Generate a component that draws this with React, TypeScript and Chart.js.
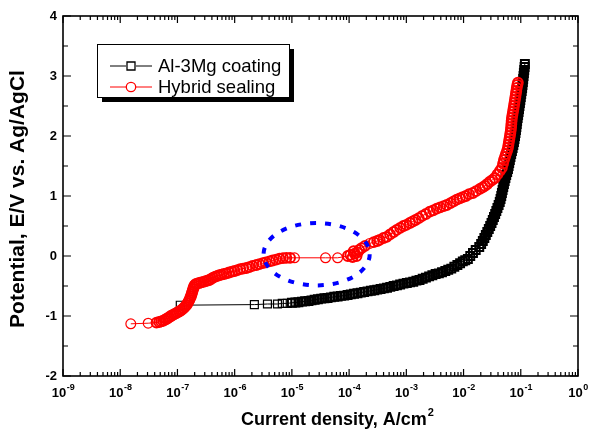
import React, { useEffect, useRef } from "react";
import { Chart, registerables } from "chart.js";

Chart.register(...registerables);

// ---------------- data ----------------
const seriesLabels = ["Al-3Mg coating", "Hybrid sealing"];

const alMgCurrent = [
  1.12e-7, 2.21e-6, 3.74e-6, 5.6e-6, 6.8e-6, 8.3e-6, 1.0e-5, 1.15e-5, 1.3e-5, 1.5e-5,
  1.7e-5, 1.95e-5, 2.2e-5, 2.5e-5, 2.85e-5, 3.25e-5, 3.7e-5, 4.2e-5, 4.8e-5, 5.5e-5,
  6.3e-5, 7.2e-5, 8.2e-5, 9.4e-5, 1.07e-4, 1.22e-4, 1.4e-4, 1.6e-4, 1.83e-4, 2.1e-4,
  2.4e-4, 2.75e-4, 3.1e-4, 3.55e-4, 4.05e-4, 4.6e-4, 5.25e-4, 6.0e-4, 6.85e-4, 7.8e-4,
  8.9e-4, 1.02e-3, 1.16e-3, 1.32e-3, 1.5e-3, 1.7e-3, 1.93e-3, 2.2e-3, 2.5e-3, 2.85e-3,
  3.25e-3, 3.7e-3, 4.2e-3, 4.8e-3, 5.4e-3, 6.1e-3, 6.9e-3, 7.8e-3, 8.7e-3, 9.7e-3,
  1.07e-2,
  1.19e-2, 1.31e-2, 1.46e-2, 1.63e-2, 1.88e-2, 2.03e-2, 2.17e-2, 2.31e-2, 2.45e-2, 2.6e-2,
  2.76e-2, 2.92e-2, 3.08e-2, 3.24e-2, 3.4e-2, 3.57e-2, 3.74e-2, 3.91e-2, 4.1e-2, 4.29e-2,
  4.43e-2, 4.56e-2, 4.68e-2, 4.81e-2, 4.94e-2, 5.08e-2, 5.23e-2, 5.39e-2, 5.57e-2, 5.79e-2,
  5.98e-2, 6.13e-2, 6.28e-2, 6.44e-2, 6.61e-2, 6.8e-2, 7.01e-2, 7.21e-2, 7.41e-2, 7.6e-2,
  7.77e-2, 7.94e-2, 8.09e-2, 8.24e-2, 8.38e-2, 8.51e-2, 8.64e-2, 8.82e-2, 8.99e-2, 9.16e-2,
  9.32e-2, 9.49e-2, 9.66e-2, 9.83e-2, 0.1, 0.1018, 0.1038, 0.1056, 0.107, 0.1087,
  0.1102, 0.1118, 0.1133, 0.115, 0.1166, 0.118,
];
const alMgPotential = [
  -0.82, -0.81, -0.8, -0.8, -0.79, -0.79, -0.78, -0.775, -0.77, -0.76,
  -0.755, -0.75, -0.74, -0.73, -0.72, -0.71, -0.705, -0.7, -0.69, -0.68,
  -0.675, -0.665, -0.66, -0.65, -0.64, -0.63, -0.62, -0.61, -0.6, -0.59,
  -0.58, -0.57, -0.56, -0.55, -0.54, -0.53, -0.515, -0.5, -0.49, -0.475,
  -0.46, -0.45, -0.44, -0.43, -0.41, -0.4, -0.38, -0.36, -0.34, -0.32,
  -0.3, -0.29, -0.27, -0.25, -0.23, -0.21, -0.18, -0.15, -0.12, -0.09,
  -0.07,
  -0.05, 0.0, 0.05, 0.1, 0.15, 0.2, 0.25, 0.3, 0.35, 0.4,
  0.45, 0.5, 0.55, 0.6, 0.65, 0.7, 0.75, 0.8, 0.85, 0.9,
  0.95, 1.0, 1.05, 1.1, 1.15, 1.2, 1.25, 1.3, 1.35, 1.4,
  1.45, 1.5, 1.55, 1.6, 1.65, 1.7, 1.75, 1.8, 1.85, 1.9,
  1.95, 2.0, 2.05, 2.1, 2.15, 2.2, 2.25, 2.3, 2.35, 2.4,
  2.45, 2.5, 2.55, 2.6, 2.65, 2.7, 2.75, 2.8, 2.85, 2.9,
  2.95, 3.0, 3.05, 3.1, 3.15, 3.2,
];

const hybridCurrent = [
  1.53e-8, 3.08e-8, 4.3e-8, 4.8e-8, 5.2e-8, 5.6e-8, 6.0e-8, 6.4e-8, 6.8e-8, 7.2e-8,
  7.7e-8, 8.2e-8, 8.8e-8, 9.4e-8, 1.0e-7, 1.07e-7, 1.14e-7, 1.21e-7, 1.28e-7, 1.36e-7,
  1.43e-7, 1.5e-7, 1.56e-7, 1.62e-7, 1.67e-7, 1.72e-7, 1.76e-7, 1.8e-7, 1.84e-7, 1.88e-7,
  1.93e-7, 1.98e-7, 2.08e-7, 2.2e-7, 2.4e-7, 2.6e-7, 2.85e-7, 3.1e-7, 3.35e-7, 3.6e-7,
  3.9e-7, 4.2e-7, 4.6e-7, 5.0e-7, 5.4e-7, 5.9e-7, 6.5e-7, 7.2e-7, 8.0e-7, 9.0e-7,
  1.0e-6, 1.12e-6, 1.25e-6, 1.4e-6, 1.6e-6, 1.8e-6, 2.05e-6, 2.4e-6, 2.7e-6, 3.1e-6,
  3.5e-6, 4.06e-6, 4.6e-6, 5.3e-6, 6.07e-6, 7.0e-6, 8.0e-6, 9.3e-6, 1.11e-5, 3.87e-5,
  6.3e-5, 9.5e-5, 1.05e-4, 1.15e-4, 1.25e-4, 1.35e-4, 1.2e-4, 1.4e-4, 1.5e-4, 1.65e-4,
  1.9e-4, 2.29e-4, 2.7e-4, 3.1e-4, 3.42e-4, 4.0e-4, 4.54e-4, 5.2e-4, 6.0e-4, 6.8e-4,
  7.8e-4, 8.9e-4, 1.0e-3, 1.15e-3, 1.29e-3, 1.45e-3, 1.65e-3, 1.9e-3, 2.2e-3, 2.57e-3,
  2.95e-3, 3.4e-3, 3.9e-3, 4.5e-3, 5.1e-3, 5.9e-3, 6.7e-3, 7.6e-3, 8.6e-3, 9.7e-3,
  1.1e-2, 1.25e-2, 1.455e-2, 1.65e-2, 1.93e-2, 2.15e-2, 2.36e-2, 2.6e-2, 2.89e-2, 3.2e-2,
  3.53e-2, 3.9e-2, 4.32e-2, 4.68e-2, 4.9e-2, 5.08e-2, 5.3e-2, 5.5e-2, 5.75e-2, 5.96e-2,
  6.08e-2, 6.2e-2, 6.33e-2, 6.46e-2, 6.58e-2, 6.7e-2, 6.78e-2, 6.85e-2, 6.92e-2, 7.0e-2,
  7.15e-2, 7.3e-2, 7.45e-2, 7.6e-2, 7.75e-2, 7.9e-2, 8.05e-2, 8.2e-2, 8.35e-2, 8.5e-2,
  8.7e-2, 8.9e-2,
];
const hybridPotential = [
  -1.13, -1.12, -1.11, -1.1, -1.09, -1.08, -1.065, -1.05, -1.035, -1.02,
  -1.0, -0.985, -0.97, -0.955, -0.94, -0.925, -0.91, -0.89, -0.87, -0.845,
  -0.82, -0.79, -0.76, -0.73, -0.7, -0.67, -0.64, -0.61, -0.58, -0.55,
  -0.52, -0.49, -0.47, -0.46, -0.45, -0.44, -0.43, -0.42, -0.41, -0.4,
  -0.38, -0.36, -0.345, -0.33, -0.32, -0.31, -0.3, -0.29, -0.275, -0.26,
  -0.25, -0.235, -0.22, -0.21, -0.2, -0.185, -0.165, -0.15, -0.135, -0.12,
  -0.105, -0.09, -0.075, -0.06, -0.045, -0.035, -0.03, -0.03, -0.03, -0.03,
  -0.03, 0.0, 0.02, -0.02, 0.04, 0.0, 0.08, 0.06, 0.1, 0.13,
  0.17, 0.21, 0.23, 0.25, 0.27, 0.3, 0.32, 0.36, 0.4, 0.435,
  0.47, 0.5, 0.52, 0.55, 0.575, 0.6, 0.63, 0.67, 0.7, 0.74,
  0.76, 0.79, 0.81, 0.83, 0.85, 0.88, 0.91, 0.94, 0.96, 0.98,
  1.0, 1.03, 1.05, 1.08, 1.12, 1.145, 1.17, 1.2, 1.24, 1.27,
  1.3, 1.36, 1.42, 1.47, 1.54, 1.6, 1.65, 1.7, 1.75, 1.8,
  1.85, 1.9, 1.95, 2.0, 2.05, 2.1, 2.15, 2.2, 2.25, 2.3,
  2.35, 2.4, 2.45, 2.5, 2.55, 2.6, 2.65, 2.7, 2.75, 2.8,
  2.85, 2.89,
];

// axis ticks
const xTickExponents = [-9, -8, -7, -6, -5, -4, -3, -2, -1, 0];
const yTicks = [-2, -1, 0, 1, 2, 3, 4];

// highlighted region (dotted ellipse), in data units
const highlightCurrentRange = [3.2e-6, 2.29e-4];
const highlightPotentialRange = [-0.49, 0.55];

const FONT = "Arial, 'Liberation Sans', Helvetica, sans-serif";

// markers that sit in a crowded stretch of the curve are stroked heavier,
// as the many overlapping symbols of the original merge into a solid band
const markerStroke = (c: any) => {
  const d = c.dataset && c.dataset.data;
  const i = c.dataIndex;
  if (!d || i == null || !d[i]) return 1.2;
  const p = d[i];
  const close = (q: any) =>
    q && Math.abs(Math.log10(q.x / p.x)) < 0.07 && Math.abs(q.y - p.y) < 0.09;
  return close(d[i - 1]) || close(d[i + 1]) ? 2 : 1.2;
};

const overlayPlugin = {
  id: "overlay",
  afterDatasetsDraw(chart: any) {
    const { ctx, scales } = chart;
    const xs = scales.x;
    const ys = scales.y;
    const x1 = xs.getPixelForValue(highlightCurrentRange[0]);
    const x2 = xs.getPixelForValue(highlightCurrentRange[1]);
    const y1 = ys.getPixelForValue(highlightPotentialRange[1]);
    const y2 = ys.getPixelForValue(highlightPotentialRange[0]);
    ctx.save();
    ctx.beginPath();
    ctx.ellipse((x1 + x2) / 2, (y1 + y2) / 2, (x2 - x1) / 2, (y2 - y1) / 2, 0, 0, Math.PI * 2);
    ctx.setLineDash([6, 9]);
    ctx.lineWidth = 4;
    ctx.lineCap = "butt";
    ctx.strokeStyle = "#0000FF";
    ctx.stroke();
    ctx.restore();
  },
  afterDraw(chart: any) {
    const { ctx, chartArea: a, scales } = chart;
    const xs = scales.x;
    const ys = scales.y;
    ctx.save();
    ctx.strokeStyle = "#000";
    ctx.fillStyle = "#000";

    // frame
    ctx.lineWidth = 1.6;
    ctx.strokeRect(a.left, a.top, a.right - a.left, a.bottom - a.top);

    // y ticks (inward, both sides)
    ctx.lineWidth = 1.2;
    ctx.beginPath();
    for (let i = 0; i < yTicks.length; i++) {
      const py = ys.getPixelForValue(yTicks[i]);
      ctx.moveTo(a.left, py);
      ctx.lineTo(a.left + 8, py);
      ctx.moveTo(a.right, py);
      ctx.lineTo(a.right - 8, py);
      if (i < yTicks.length - 1) {
        const pm = ys.getPixelForValue((yTicks[i] + yTicks[i + 1]) / 2);
        ctx.moveTo(a.left, pm);
        ctx.lineTo(a.left + 5, pm);
        ctx.moveTo(a.right, pm);
        ctx.lineTo(a.right - 5, pm);
      }
    }
    // x ticks (inward, top and bottom)
    for (let i = 0; i < xTickExponents.length; i++) {
      const e = xTickExponents[i];
      const px = xs.getPixelForValue(Math.pow(10, e));
      ctx.moveTo(px, a.bottom);
      ctx.lineTo(px, a.bottom - 7);
      ctx.moveTo(px, a.top);
      ctx.lineTo(px, a.top + 7);
      if (i < xTickExponents.length - 1) {
        for (let m = 2; m <= 9; m++) {
          const pm = xs.getPixelForValue(m * Math.pow(10, e));
          ctx.moveTo(pm, a.bottom);
          ctx.lineTo(pm, a.bottom - 4);
          ctx.moveTo(pm, a.top);
          ctx.lineTo(pm, a.top + 4);
        }
      }
    }
    ctx.stroke();

    // y tick labels
    ctx.font = `bold 13px ${FONT}`;
    ctx.textAlign = "right";
    ctx.textBaseline = "middle";
    for (const v of yTicks) {
      ctx.fillText(String(v), a.left - 6, ys.getPixelForValue(v) + 0.5);
    }

    // x tick labels (10^n)
    ctx.textAlign = "left";
    ctx.textBaseline = "alphabetic";
    for (const e of xTickExponents) {
      const px = xs.getPixelForValue(Math.pow(10, e));
      ctx.font = `bold 13px ${FONT}`;
      const wb = ctx.measureText("10").width;
      ctx.font = `bold 9px ${FONT}`;
      const we = ctx.measureText(String(e)).width;
      const start = px - (wb + we) / 2;
      ctx.font = `bold 13px ${FONT}`;
      ctx.fillText("10", start, a.bottom + 21);
      ctx.font = `bold 9px ${FONT}`;
      ctx.fillText(String(e), start + wb + 0.5, a.bottom + 14);
    }

    // x axis title
    const cx = 337;
    ctx.font = `bold 18px ${FONT}`;
    const tMain = "Current density, A/cm";
    const wMain = ctx.measureText(tMain).width;
    ctx.font = `bold 11px ${FONT}`;
    const wSup = ctx.measureText("2").width;
    const tx = cx - (wMain + wSup) / 2;
    ctx.font = `bold 18px ${FONT}`;
    ctx.fillText(tMain, tx, a.bottom + 49);
    ctx.font = `bold 11px ${FONT}`;
    ctx.fillText("2", tx + wMain + 1, a.bottom + 40);

    // y axis title
    ctx.save();
    ctx.translate(18, (a.top + a.bottom) / 2 + 3);
    ctx.rotate(-Math.PI / 2);
    ctx.font = `bold 21px ${FONT}`;
    ctx.textAlign = "center";
    ctx.textBaseline = "middle";
    ctx.fillText("Potential, E/V vs. Ag/AgCl", 0, 0);
    ctx.restore();

    // legend box with shadow
    const lx = 97, ly = 44, lw = 192, lh = 53;
    ctx.fillStyle = "#000";
    ctx.fillRect(lx + 5, ly + 5, lw, lh);
    ctx.fillStyle = "#fff";
    ctx.fillRect(lx, ly, lw, lh);
    ctx.lineWidth = 1;
    ctx.strokeStyle = "#000";
    ctx.strokeRect(lx + 0.5, ly + 0.5, lw, lh);

    const entries = [
      { color: "#000000", shape: "rect", y: ly + 22 },
      { color: "#FF0000", shape: "circle", y: ly + 43 },
    ];
    entries.forEach((en, i) => {
      ctx.strokeStyle = en.color;
      ctx.lineWidth = 1;
      ctx.beginPath();
      ctx.moveTo(110, en.y);
      ctx.lineTo(126, en.y);
      ctx.moveTo(136, en.y);
      ctx.lineTo(152, en.y);
      ctx.stroke();
      ctx.lineWidth = 1.3;
      ctx.beginPath();
      if (en.shape === "rect") {
        ctx.rect(127, en.y - 4, 8, 8);
      } else {
        ctx.arc(131, en.y, 4.7, 0, Math.PI * 2);
      }
      ctx.stroke();
      ctx.fillStyle = "#000";
      ctx.font = `18.5px ${FONT}`;
      ctx.textAlign = "left";
      ctx.textBaseline = "middle";
      ctx.fillText(seriesLabels[i], 158, en.y + 1);
    });

    ctx.restore();
  },
};

export default function App() {
  const canvasRef = useRef<HTMLCanvasElement | null>(null);

  useEffect(() => {
    const canvas = canvasRef.current;
    if (!canvas) return;
    const alMgData = alMgCurrent.map((c, i) => ({ x: c, y: alMgPotential[i] }));
    const hybridData = hybridCurrent.map((c, i) => ({ x: c, y: hybridPotential[i] }));

    const chart = new Chart(canvas, {
      type: "scatter",
      data: {
        datasets: [
          {
            label: seriesLabels[1],
            data: hybridData,
            showLine: true,
            borderColor: "#FF0000",
            borderWidth: 1,
            pointStyle: "circle",
            pointRadius: 4.9,
            pointBorderWidth: markerStroke,
            pointBorderColor: "#FF0000",
            pointBackgroundColor: "rgba(0,0,0,0)",
            tension: 0,
            order: 0,
          },
          {
            label: seriesLabels[0],
            data: alMgData,
            showLine: true,
            borderColor: "#000000",
            borderWidth: 1,
            pointStyle: "rect",
            pointRadius: 5.6,
            pointBorderWidth: markerStroke,
            pointBorderColor: "#000000",
            pointBackgroundColor: "rgba(0,0,0,0)",
            tension: 0,
            order: 1,
          },
        ],
      },
      options: {
        animation: false,
        responsive: false,
        devicePixelRatio: 1,
        events: [],
        layout: { padding: { left: 63, top: 16, right: 21, bottom: 59 } },
        plugins: {
          legend: { display: false },
          tooltip: { enabled: false },
          title: { display: false },
        },
        scales: {
          x: {
            type: "logarithmic",
            display: false,
            min: 1e-9,
            max: 1,
          },
          y: {
            type: "linear",
            display: false,
            min: -2,
            max: 4,
          },
        },
      },
      plugins: [overlayPlugin],
    });

    return () => chart.destroy();
  }, []);

  return (
    <div style={{ position: "absolute", left: 0, top: 0, width: 599, height: 435, background: "#fff" }}>
      <canvas ref={canvasRef} width={599} height={435} style={{ display: "block" }} />
    </div>
  );
}
